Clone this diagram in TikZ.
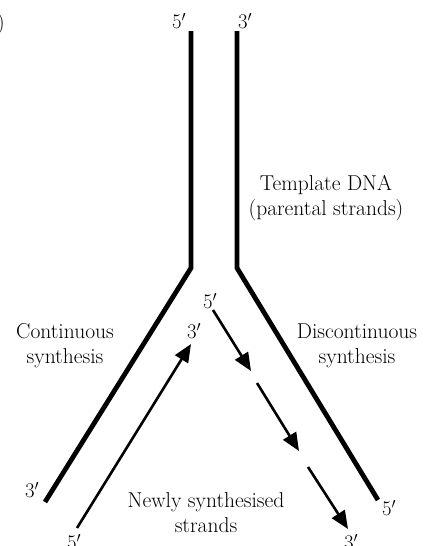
\documentclass[tikz,border=0pt]{standalone}
\usetikzlibrary{arrows.meta}
\begin{document}
\begin{tikzpicture}[x=1pt,y=-1pt,
  strand/.style={line width=4.8pt,line join=miter},
  newstrand/.style={line width=2.6pt,-{Triangle[length=18pt,width=15pt]}},
  lbl/.style={font=\fontsize{21.5}{25}\selectfont,inner sep=0pt},
  endlbl/.style={font=\fontsize{21}{24}\selectfont,inner sep=0pt}]
\useasboundingbox (0,0) rectangle (425,546);

% parental template strands
\coordinate (lt) at (191,31);
\coordinate (lk) at (191,268);
\coordinate (lb) at (45,502);
\coordinate (rt) at (237,31);
\coordinate (rk) at (237,268);
\coordinate (rb) at (378,500);
\draw[strand] (lt) -- (lk) -- (lb);
\draw[strand] (rt) -- (rk) -- (rb);

% leading strand
\coordinate (ls) at (77,528);
\coordinate (le) at (191,344);
\draw[newstrand] (ls) -- (le);

% Okazaki fragments
\coordinate (o1s) at (213,310);
\coordinate (o1e) at (251,371);
\coordinate (o2s) at (257,383);
\coordinate (o2e) at (299,451);
\coordinate (o3s) at (308,467);
\coordinate (o3e) at (348,529);
\draw[newstrand] (o1s) -- (o1e);
\draw[newstrand] (o2s) -- (o2e);
\draw[newstrand] (o3s) -- (o3e);

% strand end labels
\node[endlbl] (p5top) at (179,21) {$5'$};
\node[endlbl] (p3top) at (245,21) {$3'$};
\node[endlbl] (p3left) at (32,490) {$3'$};
\node[endlbl] (p5right) at (389,508) {$5'$};
\node[endlbl] (n5left) at (74,542) {$5'$};
\node[endlbl] (n3lead) at (194,331) {$3'$};
\node[endlbl] (n5lag) at (210,301) {$5'$};
\node[endlbl] (n3lag) at (351,542) {$3'$};

% captions
\node[lbl,align=center] (tmpl) at (326,198) {Template DNA\\(parental strands)};
\node[lbl,align=center] (cont) at (65,346) {Continuous\\synthesis};
\node[lbl,align=center] (disc) at (357,346) {Discontinuous\\synthesis};
\node[lbl,align=center] (newly) at (206,513) {Newly synthesised\\strands};
\node[lbl,anchor=east] (tag) at (5,24) {(b)};
\end{tikzpicture}
\end{document}
